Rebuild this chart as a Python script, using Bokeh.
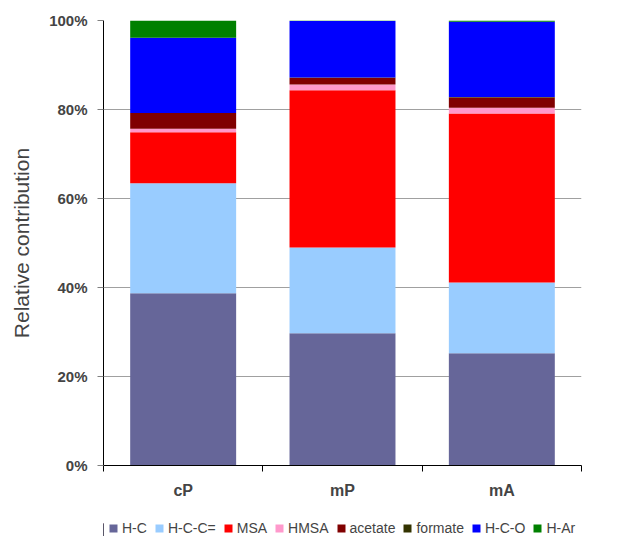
from bokeh.plotting import figure
from bokeh.models import (Range1d, FixedTicker, PrintfTickFormatter, Legend, ColumnDataSource)
from bokeh.layouts import column
from bokeh.embed import file_html
from bokeh.resources import INLINE

categories = ["cP", "mP", "mA"]
series = ["H-C", "H-C-C=", "MSA", "HMSA", "acetate", "formate", "H-C-O", "H-Ar"]
colors = ["#666699", "#99CCFF", "#FF0000", "#FF99CC", "#800000", "#333300", "#0000FF", "#008000"]

hc      = [38.7, 29.7, 25.2]
hcc     = [24.7, 19.3, 15.9]
msa     = [11.5, 35.3, 38.0]
hmsa    = [0.8, 1.3, 1.3]
acetate = [3.5, 1.5, 2.3]
formate = [0.0, 0.1, 0.1]
hco     = [16.9, 12.7, 16.9]
har     = [3.9, 0.1, 0.3]
y_ticks = [0, 20, 40, 60, 80, 100]

values = [hc, hcc, msa, hmsa, acetate, formate, hco, har]
xpos = [i + 0.5 for i in range(len(categories))]
data = {"x": xpos}
for s, v in zip(series, values):
    data[s] = v
src = ColumnDataSource(data)

p = figure(width=630, height=510, output_backend="svg", toolbar_location=None,
           x_range=Range1d(0, len(categories)), y_range=Range1d(0, 100),
           min_border_left=103, min_border_top=20, min_border_right=49, min_border_bottom=45)
p.outline_line_color = None

renderers = p.vbar_stack(series, x="x", width=0.665, color=colors, source=src, line_color=None)

# axes
font = "Liberation Sans"
p.xaxis.ticker = FixedTicker(ticks=xpos, minor_ticks=list(range(len(categories) + 1)))
p.xaxis.major_label_overrides = {x: c for x, c in zip(xpos, categories)}
p.xaxis.major_tick_in = 0
p.xaxis.major_tick_out = 0
p.xaxis.minor_tick_in = 0
p.xaxis.minor_tick_out = 6
p.xaxis.minor_tick_line_color = "black"
p.xaxis.axis_line_color = "black"
p.xaxis.major_label_text_font = font
p.xaxis.major_label_text_font_style = "bold"
p.xaxis.major_label_text_font_size = "16px"
p.xaxis.major_label_standoff = 10

p.yaxis.ticker = FixedTicker(ticks=y_ticks, minor_ticks=[])
p.yaxis.formatter = PrintfTickFormatter(format="%d%%")
p.yaxis.major_tick_in = 0
p.yaxis.major_tick_out = 6
p.yaxis.major_tick_line_color = "#808080"
p.yaxis.axis_line_color = "black"
p.yaxis.major_label_text_font = font
p.yaxis.major_label_text_font_style = "bold"
p.yaxis.major_label_text_font_size = "15px"
p.yaxis.major_label_standoff = 10
p.yaxis.axis_label = "Relative contribution"
p.yaxis.axis_label_text_font = font
p.yaxis.axis_label_text_font_style = "normal"
p.yaxis.axis_label_text_font_size = "21px"
p.yaxis.axis_label_standoff = 13

p.xgrid.grid_line_color = None
p.ygrid.ticker = FixedTicker(ticks=y_ticks[1:])
p.ygrid.grid_line_color = "#a0a0a0"
p.ygrid.grid_line_width = 1

# legend strip below the chart (swatch renderers sit outside the visible range)
lf = figure(width=630, height=26, output_backend="svg", toolbar_location=None,
            x_range=Range1d(0, 1), y_range=Range1d(0, 1),
            x_axis_type=None, y_axis_type=None,
            min_border_left=0, min_border_right=0, min_border_top=0, min_border_bottom=0)
lf.outline_line_color = None
lf.xgrid.grid_line_color = None
lf.ygrid.grid_line_color = None
legend_renderers = [lf.vbar(x=[-10], top=[0.5], width=0.5, color=c, line_color=None) for c in colors]

legend = Legend(items=[(s, [r]) for s, r in zip(series, legend_renderers)],
                orientation="horizontal", location=(5, 0))
legend.label_text_font = font
legend.label_text_font_size = "14px"
legend.glyph_width = 10
legend.glyph_height = 10
legend.label_standoff = 4
legend.spacing = 7
legend.padding = 0
legend.margin = 0
legend.border_line_color = None
legend.background_fill_alpha = 0
lf.add_layout(legend, "center")

layout = column(p, lf, spacing=0)
open("out.html", "w").write(file_html(layout, INLINE))
